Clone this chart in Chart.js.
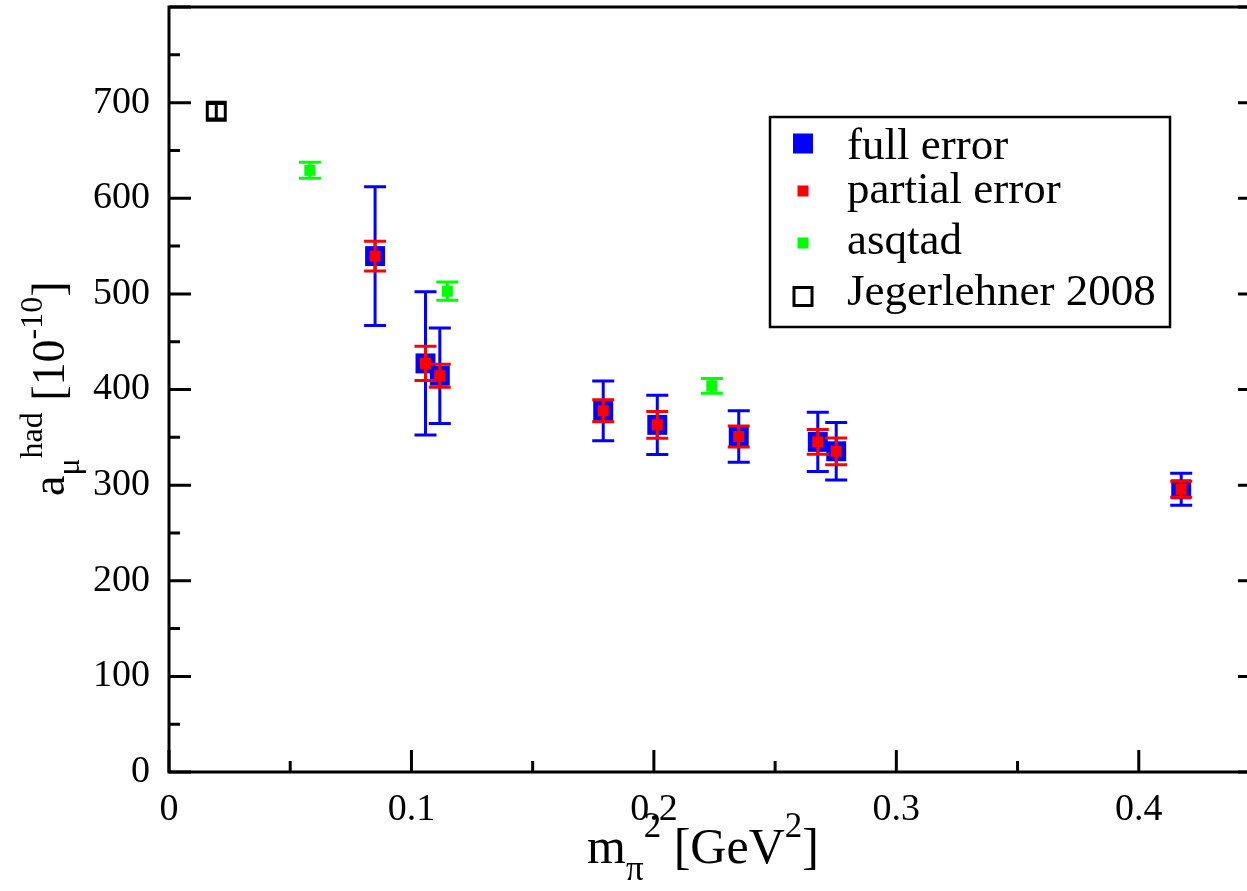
<!DOCTYPE html>
<html><head><meta charset="utf-8">
<script src="https://cdn.jsdelivr.net/npm/chart.js@4.4.0/dist/chart.umd.min.js"></script>
<style>
html,body{margin:0;padding:0;background:#fff;overflow:hidden;}
#wrap{position:relative;width:1265px;height:891px;}
</style></head><body>
<div id="wrap"><canvas id="c"></canvas></div>
<script>
// ---- data ----
const fullX = [0.0850, 0.1058, 0.1117, 0.1791, 0.2014, 0.2350, 0.2676, 0.2752, 0.4175];
const fullY = [539.5, 427.3, 414.4, 377.7, 363.0, 350.8, 345.2, 335.4, 295.6];
const fullErr = [72.6, 75, 50, 31.3, 31, 27, 31, 30, 16.7];
const partialErr = [15.5, 18, 12, 11.5, 14, 11, 13, 14, 8.4];
const asqtadX = [0.0581, 0.1148, 0.2239];
const asqtadY = [629.2, 502.8, 403.9];
const asqtadErr = [8.4, 9.5, 7.7];
const jegX = [0.0195];
const jegY = [691];
const jegErr = [8];
const xTicks = [0, 0.1, 0.2, 0.3, 0.4];
const xMinor = [0.05, 0.15, 0.25, 0.35, 0.45];
const yTicks = [0, 100, 200, 300, 400, 500, 600, 700, 800];
const yMinor = [50, 150, 250, 350, 450, 550, 650, 750];
const seriesLabels = ['full error', 'partial error', 'asqtad', 'Jegerlehner 2008'];

const FONT = '"Liberation Serif", "Times New Roman", serif';
const pts = (xs, ys) => xs.map((x, i) => ({x: x, y: ys[i]}));

const errorBars = {
  id: 'errorBars',
  beforeDatasetDraw(chart, args) {
    const ds = chart.data.datasets[args.index];
    if (!ds.errors) return;
    const ctx = chart.ctx, ys = chart.scales.y;
    const meta = args.meta;
    ctx.save();
    ctx.strokeStyle = ds.errColor;
    ctx.lineWidth = 3;
    ctx.lineCap = 'butt';
    meta.data.forEach((el, i) => {
      const v = ds.data[i].y, e = ds.errors[i];
      const x = el.x;
      const y1 = ys.getPixelForValue(v + e), y2 = ys.getPixelForValue(v - e);
      const h = ds.capHalf;
      ctx.beginPath();
      ctx.moveTo(x, y1); ctx.lineTo(x, y2);
      ctx.moveTo(x - h, y1); ctx.lineTo(x + h, y1);
      ctx.moveTo(x - h, y2); ctx.lineTo(x + h, y2);
      ctx.stroke();
    });
    ctx.restore();
  }
};

const frame = {
  id: 'frame',
  afterDraw(chart) {
    const ctx = chart.ctx, a = chart.chartArea, xs = chart.scales.x, ys = chart.scales.y;
    ctx.save();
    ctx.strokeStyle = '#000';
    ctx.lineWidth = 3;
    ctx.beginPath();
    ctx.rect(a.left, a.top, a.right - a.left, a.bottom - a.top);
    ctx.stroke();
    ctx.beginPath();
    const tick = (vals, len) => {
      vals.forEach(v => {
        const y = ys.getPixelForValue(v);
        ctx.moveTo(a.left, y); ctx.lineTo(a.left + len, y);
        ctx.moveTo(a.right, y); ctx.lineTo(a.right - len, y);
      });
    };
    const tickx = (vals, len) => {
      vals.forEach(v => {
        const x = xs.getPixelForValue(v);
        ctx.moveTo(x, a.bottom); ctx.lineTo(x, a.bottom - len);
      });
    };
    tick(yTicks, 22); tick(yMinor, 11);
    tickx(xTicks, 22); tickx(xMinor, 11);
    ctx.stroke();
    ctx.restore();
  }
};

function drawRuns(ctx, runs, x, y) {
  let cx = x;
  runs.forEach(r => {
    ctx.font = r.size + 'px ' + FONT;
    ctx.fillText(r.t, cx, y + r.dy);
    cx += ctx.measureText(r.t).width;
  });
  return cx - x;
}
function runsWidth(ctx, runs) {
  let w = 0;
  runs.forEach(r => { ctx.font = r.size + 'px ' + FONT; w += ctx.measureText(r.t).width; });
  return w;
}

const titles = {
  id: 'titles',
  afterDraw(chart) {
    const ctx = chart.ctx;
    ctx.save();
    ctx.fillStyle = '#000';
    ctx.textBaseline = 'alphabetic';
    ctx.textAlign = 'left';
    const xr = [
      {t: 'm', size: 50, dy: 0},
      {t: 'π', size: 35, dy: 17},
      {t: '2', size: 35, dy: -26},
      {t: ' [GeV', size: 50, dy: 0},
      {t: '2', size: 35, dy: -26},
      {t: ']', size: 50, dy: 0}
    ];
    const w = runsWidth(ctx, xr);
    drawRuns(ctx, xr, 703 - w / 2, 863);
    const yr = [
      {t: 'a', size: 46, dy: 0},
      {t: 'μ', size: 32, dy: 15},
      {t: 'had', size: 32, dy: -22},
      {t: ' [10', size: 46, dy: 0},
      {t: '-10', size: 32, dy: -22},
      {t: ']', size: 46, dy: 0}
    ];
    ctx.translate(64, 496);
    ctx.rotate(-Math.PI / 2);
    drawRuns(ctx, yr, 0, 0);
    ctx.restore();
  }
};

const legendBox = {
  id: 'legendBox',
  afterDraw(chart) {
    const ctx = chart.ctx;
    ctx.save();
    ctx.fillStyle = '#fff';
    ctx.fillRect(770, 117, 400, 210);
    ctx.strokeStyle = '#000';
    ctx.lineWidth = 2.5;
    ctx.strokeRect(770, 117, 400, 210);
    const rows = [143.5, 191, 243, 296.5];
    const sx = 803;
    ctx.fillStyle = '#0000ff'; ctx.fillRect(sx - 10, rows[0] - 10, 20, 20);
    ctx.fillStyle = '#ff0000'; ctx.fillRect(sx - 5.5, rows[1] - 5.5, 11, 11);
    ctx.fillStyle = '#00ff00'; ctx.fillRect(sx - 5.5, rows[2] - 5.5, 11, 11);
    ctx.strokeStyle = '#000'; ctx.lineWidth = 3; ctx.strokeRect(sx - 9, rows[3] - 9, 18, 18);
    ctx.fillStyle = '#000';
    ctx.font = '45px ' + FONT;
    ctx.textBaseline = 'alphabetic';
    const bases = [159, 203, 254, 305];
    seriesLabels.forEach((t, i) => ctx.fillText(t, 847, bases[i]));
    ctx.restore();
  }
};

new Chart(document.getElementById('c'), {
  type: 'scatter',
  data: {
    datasets: [
      {label: seriesLabels[0], data: pts(fullX, fullY), errors: fullErr, errColor: '#0000ff', capHalf: 11,
       pointStyle: 'rect', pointRadius: 14.1, backgroundColor: '#0000ff', borderWidth: 0, order: 4},
      {label: seriesLabels[1], data: pts(fullX, fullY), errors: partialErr, errColor: '#ff0000', capHalf: 11,
       pointStyle: 'rect', pointRadius: 7.8, backgroundColor: '#ff0000', borderWidth: 0, order: 3},
      {label: seriesLabels[2], data: pts(asqtadX, asqtadY), errors: asqtadErr, errColor: '#00ff00', capHalf: 11,
       pointStyle: 'rect', pointRadius: 7.8, backgroundColor: '#00ff00', borderWidth: 0, order: 2},
      {label: seriesLabels[3], data: pts(jegX, jegY), errors: jegErr, errColor: '#000000', capHalf: 9,
       pointStyle: 'rect', pointRadius: 12.7, backgroundColor: 'rgba(0,0,0,0)', borderColor: '#000', borderWidth: 3, order: 1}
    ]
  },
  options: {
    animation: false,
    responsive: true,
    maintainAspectRatio: false,
    events: [],
    layout: {autoPadding: false, padding: {left: 0, top: 7, right: 5, bottom: 0}},
    plugins: {legend: {display: false}, tooltip: {enabled: false}},
    scales: {
      x: {
        type: 'linear', min: 0, max: 0.45,
        grid: {display: false}, border: {display: false},
        afterBuildTicks(s) { s.ticks = xTicks.map(v => ({value: v})); },
        afterFit(s) { s.height = 119; s.paddingLeft = 0; s.paddingRight = 0; s.paddingTop = 0; s.paddingBottom = 0; },
        ticks: {font: {family: FONT, size: 38}, color: '#000', padding: 7, maxRotation: 0, autoSkip: false,
                callback: v => String(v)}
      },
      y: {
        type: 'linear', min: 0, max: 800,
        grid: {display: false}, border: {display: false},
        afterBuildTicks(s) { s.ticks = yTicks.filter(v => v < 800).map(v => ({value: v})); },
        afterFit(s) { s.width = 169; s.paddingLeft = 0; s.paddingRight = 0; s.paddingTop = 0; s.paddingBottom = 0; },
        ticks: {font: {family: FONT, size: 38}, color: '#000', padding: 11, autoSkip: false,
                callback: v => String(v)}
      }
    }
  },
  plugins: [errorBars, frame, titles, legendBox]
});
</script>
</body></html>
